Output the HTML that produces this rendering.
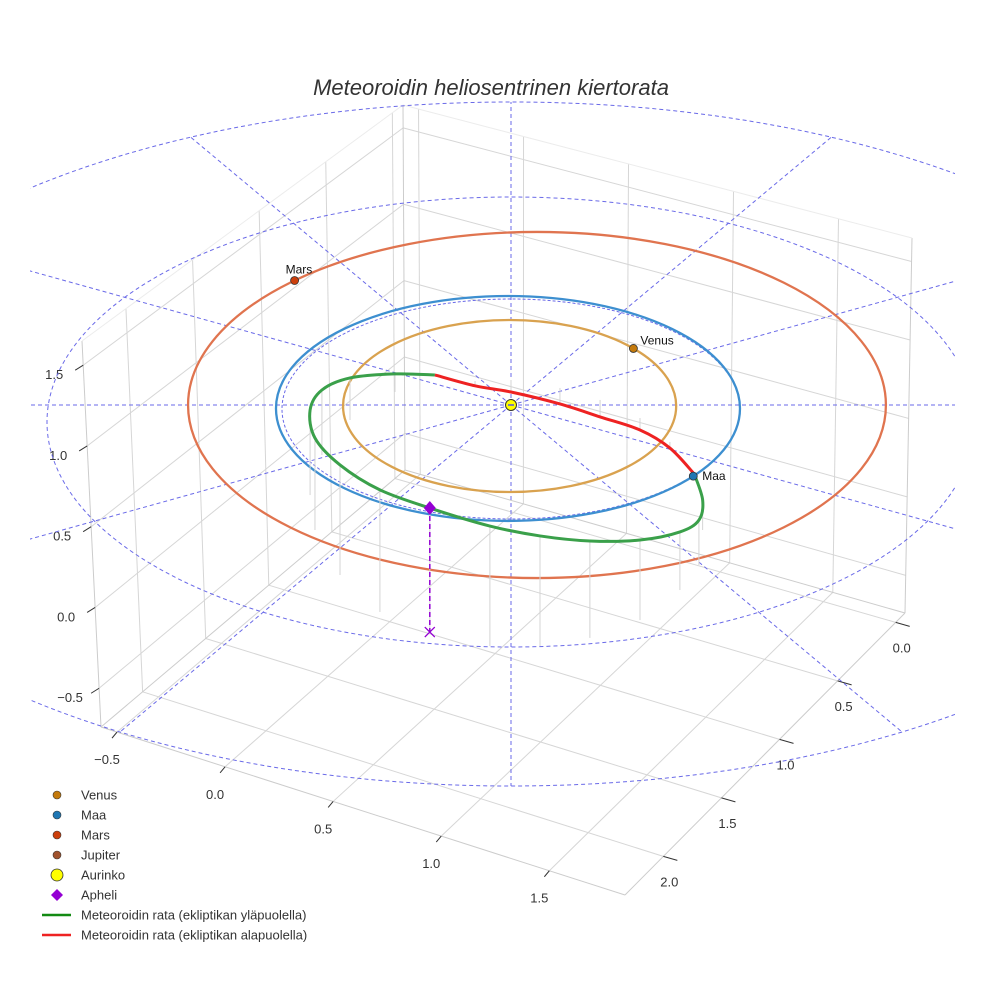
<!DOCTYPE html>
<html><head><meta charset="utf-8"><style>
html,body{margin:0;padding:0;background:#fff;}
svg{display:block;font-family:"Liberation Sans",sans-serif;}
</style></head><body>
<svg id="chart" width="984" height="984" viewBox="0 0 984 984" xmlns="http://www.w3.org/2000/svg">
<defs><clipPath id="plotclip"><rect x="30" y="95" width="925" height="695"/></clipPath></defs>
<text x="491" y="95" text-anchor="middle" font-size="22" font-style="italic" fill="#333">Meteoroidin heliosentrinen kiertorata</text>
<g id="box"></g>
<g id="polar" clip-path="url(#plotclip)"></g>
<g id="orbits"></g>
<g id="legend"></g>
</svg>
<script>
// ---- data ----
const xTicks = [-0.5, 0, 0.5, 1, 1.5];
const yTicks = [0, 0.5, 1, 1.5, 2];
const zTicks = [-0.5, 0, 0.5, 1, 1.5];
const xRange = [-0.574, 1.85];
const yRange = [-0.08, 2.33];
const zRange = [-0.74, 1.65];
const planetNames = ["Venus", "Maa", "Mars"];
const planetRadiiX = [0.718, 1.0, 1.504];
const planetRadiiY = [0.768, 1.004, 1.545];
const planetCenterX = [-0.006, -0.013, 0.112];
const planetCenterY = [0.009, 0.031, 0.0];
const planetAnglesDeg = [-42, 37, -134];
const ringRadii = [1.0];
const radialAnglesDeg = [0,30,60,90,120,150,180,210,240,270,300,330];
// meteoroid orbit (ecliptic x, y in AU, height z in AU)
const greenX = [0.79,0.826,0.81,0.728,0.556,0.34,0.125,-0.091,-0.35,-0.565,-0.737,-0.845,-0.866,-0.815,-0.694,-0.5,-0.328];
const greenY = [0.616,1.116,1.429,1.652,1.920,2.080,2.152,2.152,2.027,1.848,1.518,1.116,0.804,0.446,0.134,-0.116,-0.268];
const greenZ = [0,0.188,0.281,0.363,0.5,0.606,0.688,0.75,0.775,0.763,0.688,0.575,0.531,0.406,0.263,0.113,0];
const redX = [-0.328,-0.155,0,0.211,0.384,0.556,0.685,0.79];
const redY = [-0.268,-0.214,-0.223,-0.152,-0.045,0.116,0.330,0.616];
const redZ = [0,-0.03,-0.075,-0.1,-0.106,-0.075,-0.038,0];
const apheliIndex = 8;

// ---- helpers ----
const NS = "http://www.w3.org/2000/svg";
function mk(parent, tag, attrs){const e=document.createElementNS(NS,tag);for(const k in attrs)e.setAttribute(k,attrs[k]);parent.appendChild(e);return e;}
const sun = [511, 405];
const SX = 232, SY = 112, SZ = 160;
function eclX(x){return sun[0] + SX*x;}
function eclY(y,z){return sun[1] + SY*y - SZ*(z||0);}

const C = {
 "000":[405,470],"010":[101,727],"110":[625,895],"100":[905,613],
 "001":[403,105],"011":[82,341],"101":[912,238],"111":[630,520]
};
function lerp(a,b,t){return [a[0]+(b[0]-a[0])*t,a[1]+(b[1]-a[1])*t];}
function P(x,y,z){
 const u=(x-xRange[0])/(xRange[1]-xRange[0]);
 const v=(y-yRange[0])/(yRange[1]-yRange[0]);
 const w=(z-zRange[0])/(zRange[1]-zRange[0]);
 const b=lerp(lerp(C["000"],C["100"],u),lerp(C["010"],C["110"],u),v);
 const t=lerp(lerp(C["001"],C["101"],u),lerp(C["011"],C["111"],u),v);
 return lerp(b,t,w);
}
const box=document.getElementById("box");
function gline(a,b,name,col){const l=mk(box,"line",{x1:a[0],y1:a[1],x2:b[0],y2:b[1],stroke:col||"#d6d6d6","stroke-width":1});
 
 }
xTicks.forEach(x=>gline(P(x,yRange[0],zRange[0]),P(x,yRange[1],zRange[0]),"floor-grid-x"));
yTicks.forEach(y=>gline(P(xRange[0],y,zRange[0]),P(xRange[1],y,zRange[0]),"floor-grid-y"));
yTicks.forEach(y=>gline(P(xRange[0],y,zRange[0]),P(xRange[0],y,zRange[1]),"wall-grid-y"));
zTicks.forEach(z=>gline(P(xRange[0],yRange[0],z),P(xRange[0],yRange[1],z),"wall-grid-z"));
xTicks.forEach(x=>gline(P(x,yRange[0],zRange[0]),P(x,yRange[0],zRange[1]),"wall-grid-x"));
zTicks.forEach(z=>gline(P(xRange[0],yRange[0],z),P(xRange[1],yRange[0],z),"wall-grid-z2"));
[["010","110"],["110","100"],["010","000"],["000","100"],["000","001"],["010","011"],["100","101"]].forEach(e=>gline(C[e[0]],C[e[1]],"box-edge","#cccccc"));
[["011","001"],["001","101"]].forEach(e=>gline(C[e[0]],C[e[1]],"box-top-edge","#ececec"));
function tick(p,d,lab,off,name){
 const l=mk(box,"line",{x1:p[0],y1:p[1],x2:p[0]+d[0],y2:p[1]+d[1],stroke:"#333","stroke-width":1});
 
 
 const t=mk(box,"text",{x:p[0]+off[0],y:p[1]+off[1]+5,"text-anchor":"middle","font-size":13,fill:"#333"});
 t.textContent=lab;
 
 
}
function fmt(v){return v<0?"\u2212"+Math.abs(v).toFixed(1):v.toFixed(1);}
xTicks.forEach(x=>tick(P(x,yRange[1],zRange[0]),[-5,6],fmt(x),[-10,27],"x-axis"));
yTicks.forEach(y=>tick(P(xRange[1],y,zRange[0]),[14,4],fmt(y),[6,25],"y-axis"));
zTicks.forEach(z=>tick(P(xRange[0],yRange[1],z),[-8,5],fmt(z),[-29,9],"z-axis"));

const polar=document.getElementById("polar");
const OC=[511,444], ORX=725, ORY=342;
const outer=mk(polar,"ellipse",{cx:OC[0],cy:OC[1],rx:ORX,ry:ORY,fill:"none",stroke:"#6a6ae8","stroke-width":1,"stroke-dasharray":"4,3"});


const inner=mk(polar,"ellipse",{cx:511,cy:422,rx:464,ry:225,fill:"none",stroke:"#6a6ae8","stroke-width":1,"stroke-dasharray":"4,3"});


ringRadii.forEach(r=>{const e=mk(polar,"ellipse",{cx:sun[0],cy:sun[1]+4,rx:SX*r-3,ry:SY*r-2,fill:"none",stroke:"#6a6ae8","stroke-width":1,"stroke-dasharray":"3,2"});
 
 });
radialAnglesDeg.forEach(a=>{
 const r=a*Math.PI/180; const dx=SX*Math.cos(r), dy=SY*Math.sin(r);
 const ox=sun[0]-OC[0], oy=sun[1]-OC[1];
 const A=(dx/ORX)**2+(dy/ORY)**2, B=2*(ox*dx/ORX**2+oy*dy/ORY**2), Cc=(ox/ORX)**2+(oy/ORY)**2-1;
 const t=(-B+Math.sqrt(B*B-4*A*Cc))/(2*A);
 const l=mk(polar,"line",{x1:sun[0],y1:sun[1],x2:sun[0]+t*dx,y2:sun[1]+t*dy,stroke:"#6a6ae8","stroke-width":1,"stroke-dasharray":"4,3"});
 
 
});

const orb=document.getElementById("orbits");
const orbitColors=["#d9a24f","#3d8fd0","#e0744f"];
const markerColors=["#c47a0c","#1f77b4","#cc3f0c"];
planetRadiiX.forEach((r,i)=>{
 const e=mk(orb,"ellipse",{cx:eclX(planetCenterX[i]),cy:eclY(planetCenterY[i],0),rx:SX*r,ry:SY*planetRadiiY[i],fill:"none",stroke:orbitColors[i],"stroke-width":2.3});
 
 
});
function cr(pts){let d="M"+pts[0][0]+","+pts[0][1];
 for(let i=0;i<pts.length-1;i++){const p0=pts[Math.max(0,i-1)],p1=pts[i],p2=pts[i+1],p3=pts[Math.min(pts.length-1,i+2)];
  d+=" C"+(p1[0]+(p2[0]-p0[0])/6)+","+(p1[1]+(p2[1]-p0[1])/6)+" "+(p2[0]-(p3[0]-p1[0])/6)+","+(p2[1]-(p3[1]-p1[1])/6)+" "+p2[0]+","+p2[1];}
 return d;}
function stems(X,Y,Z,name){X.forEach((x,i)=>{const sx=eclX(x);
 const l=mk(orb,"line",{x1:sx,y1:eclY(Y[i],Z[i]),x2:sx,y2:eclY(Y[i],0),stroke:"#d4d4d4","stroke-width":1});
 
 });}
stems(greenX,greenY,greenZ,"height-stem");
stems(redX,redY,redZ,"depth-stem");
const gp=mk(orb,"path",{d:cr(greenX.map((x,i)=>[eclX(x),eclY(greenY[i],greenZ[i])])),fill:"none",stroke:"#3aa04a","stroke-width":3});


const rp=mk(orb,"path",{d:cr(redX.map((x,i)=>[eclX(x),eclY(redY[i],redZ[i])])),fill:"none",stroke:"#ee2222","stroke-width":3});


const ax=eclX(greenX[apheliIndex]), ay=eclY(greenY[apheliIndex],greenZ[apheliIndex]), ay0=eclY(greenY[apheliIndex],0);
const dl=mk(orb,"line",{x1:ax,y1:ay,x2:ax,y2:ay0,stroke:"#9400d3","stroke-width":1.5,"stroke-dasharray":"5,3"});


const xm=mk(orb,"path",{d:`M${ax-5},${ay0-5}L${ax+5},${ay0+5}M${ax-5},${ay0+5}L${ax+5},${ay0-5}`,stroke:"#9400d3","stroke-width":1.3});


const dm=mk(orb,"path",{d:`M${ax},${ay-7}L${ax+6},${ay}L${ax},${ay+7}L${ax-6},${ay}Z`,fill:"#9400d3"});


const labOff=[[7,-4],[9,4],[-9,-7]];
planetRadiiX.forEach((r,i)=>{const a=planetAnglesDeg[i]*Math.PI/180;
 const px=eclX(planetCenterX[i]+r*Math.cos(a)), py=eclY(planetCenterY[i]+planetRadiiY[i]*Math.sin(a),0);
 const c=mk(orb,"circle",{cx:px,cy:py,r:4,fill:markerColors[i],stroke:"#333","stroke-width":0.8});
 
 
 const t=mk(orb,"text",{x:px+labOff[i][0],y:py+labOff[i][1],"font-size":12,fill:"#111"});
 t.textContent=planetNames[i];
 
 });
const sc=mk(orb,"circle",{cx:sun[0],cy:sun[1],r:5.5,fill:"#ffff00",stroke:"#333","stroke-width":1});


const sd=mk(orb,"line",{x1:sun[0]-3,y1:sun[1],x2:sun[0]+3,y2:sun[1],stroke:"#5555dd","stroke-width":1.5});



const lg=document.getElementById("legend");
const legendLabels=["Venus","Maa","Mars","Jupiter","Aurinko","Apheli","Meteoroidin rata (ekliptikan yläpuolella)","Meteoroidin rata (ekliptikan alapuolella)"];
const legendColors=["#c47a0c","#1f77b4","#cc3f0c","#a0522d","#ffff00","#9400d3","#138a13","#ee2222"];
const legendKinds=["dot","dot","dot","dot","sun","diamond","line","line"];
legendLabels.forEach((lab,i)=>{const y=795+i*20;
 const g=mk(lg,"g",{});
 
 
 const k=legendKinds[i];
 if(k==="dot")mk(g,"circle",{cx:57,cy:y,r:4,fill:legendColors[i],stroke:"#333","stroke-width":0.6});
 else if(k==="sun")mk(g,"circle",{cx:57,cy:y,r:6,fill:legendColors[i],stroke:"#333","stroke-width":0.8});
 else if(k==="diamond")mk(g,"path",{d:`M57,${y-6}L63,${y}L57,${y+6}L51,${y}Z`,fill:legendColors[i]});
 else mk(g,"line",{x1:42,y1:y,x2:71,y2:y,stroke:legendColors[i],"stroke-width":2.5});
 const t=mk(g,"text",{x:81,y:y+4.5,"font-size":13,fill:"#333"});t.textContent=lab;
});
</script>
</body></html>
